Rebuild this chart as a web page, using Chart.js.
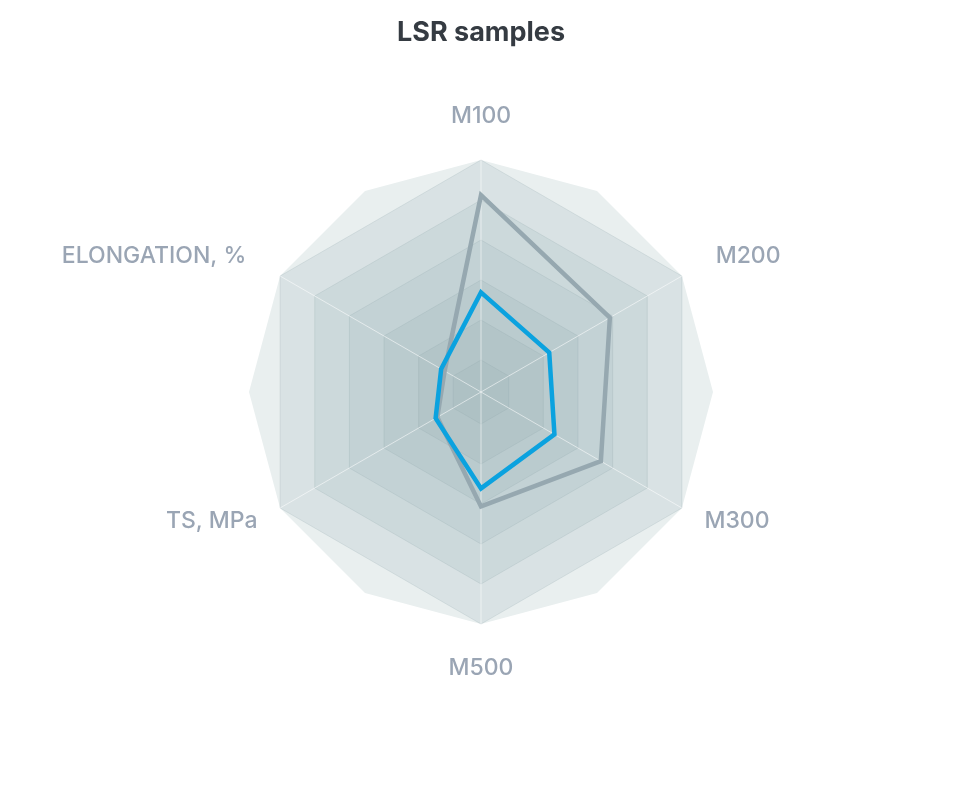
<!DOCTYPE html>
<html>
<head>
<meta charset="utf-8">
<title>LSR samples</title>
<script src="https://cdn.jsdelivr.net/npm/chart.js@4.4.0/dist/chart.umd.min.js"></script>
<style>
    html, body { margin: 0; padding: 0; background: #fff; }
    #wrap { width: 956px; height: 788px; }
</style>
</head>
<body>
<div id="wrap"><canvas id="chart-radar"></canvas></div>
<script>
// values (scale runs from -0.8 at the centre to 5 at the rim)
const axisLabels = ['M100', 'M200', 'M300', 'M500', 'TS, MPa', 'ELONGATION, %'];
const sampleBlue = [1.69, 1.17, 1.32, 1.61, 0.51, 0.35];
const sampleGrey = [4.12, 2.92, 2.66, 2.06, 0.46, 0.25];
const ringTicks = [0, 1, 2, 3, 4, 5];

Chart.defaults.font.family = 'Inter, sans-serif';

// shaded rings behind the grid, outermost first
const ringBands = {
    id: 'ringBands',
    beforeDraw(chart, args, opts) {
        const r = chart.scales.r;
        const ctx = chart.ctx;
        const n = chart.data.labels.length;
        const outer = r.getDistanceFromCenterForValue(r.max);

        ctx.save();
        // twelve sided backdrop
        ctx.beginPath();
        for (let i = 0; i < n; i++) {
            const p = r.getPointPosition(i, outer);
            const q = r.getPointPosition(i, outer, Math.PI / n);
            if (i === 0) ctx.moveTo(p.x, p.y); else ctx.lineTo(p.x, p.y);
            ctx.lineTo(q.x, q.y);
        }
        ctx.closePath();
        ctx.fillStyle = opts.backdrop;
        ctx.fill();

        const ticks = r.ticks.slice().reverse();
        ticks.forEach((t, k) => {
            const d = r.getDistanceFromCenterForValue(t.value);
            ctx.beginPath();
            for (let i = 0; i < n; i++) {
                const p = r.getPointPosition(i, d);
                if (i === 0) ctx.moveTo(p.x, p.y); else ctx.lineTo(p.x, p.y);
            }
            ctx.closePath();
            ctx.fillStyle = opts.colors[k] || opts.colors[opts.colors.length - 1];
            ctx.fill();
        });
        ctx.restore();
    }
};

const ctx = document.getElementById('chart-radar').getContext('2d');
const radarChart = new Chart(ctx, {
    type: 'radar',
    plugins: [ringBands],
    data: {
        labels: axisLabels,
        datasets: [{
            label: 'Sample 1',
            data: sampleBlue,
            borderColor: '#0ba2df',
            borderWidth: 4.5,
            fill: false,
            pointRadius: 0,
            pointHoverRadius: 0
        }, {
            label: 'Sample 2',
            data: sampleGrey,
            borderColor: '#96a8b0',
            borderWidth: 4.5,
            fill: false,
            pointRadius: 0,
            pointHoverRadius: 0
        }]
    },
    options: {
        responsive: true,
        maintainAspectRatio: false,
        animation: false,
        layout: {
            padding: { left: 6, right: 0, top: 0, bottom: 106 }
        },
        elements: {
            line: { tension: 0, borderJoinStyle: 'miter' }
        },
        plugins: {
            legend: { display: false },
            tooltip: { enabled: false },
            title: {
                display: true,
                text: 'LSR samples',
                color: '#353b42',
                font: { size: 27, weight: 'bold', lineHeight: 1.2 },
                padding: { top: 17, bottom: 53 }
            },
            ringBands: {
                backdrop: '#e9efef',
                colors: ['#d9e2e4', '#ccd9db', '#c3d2d5', '#bacbce', '#b3c5c8', '#aec1c4']
            }
        },
        scales: {
            r: {
                min: -0.8,
                max: 5,
                afterBuildTicks(scale) {
                    scale.ticks = ringTicks.map(v => ({ value: v }));
                },
                ticks: { display: false },
                grid: {
                    color: 'rgba(140, 165, 170, 0.22)',
                    lineWidth: 1
                },
                angleLines: {
                    color: 'rgba(255, 255, 255, 0.55)',
                    lineWidth: 1
                },
                pointLabels: {
                    color: '#9aa5b4',
                    font: (c) => ({ size: 23, weight: '500', lineHeight: c.index % 3 === 0 ? 1.2 : 0 }),
                    padding: (c) => {
                        if (c.index % 3 === 0) return 30;
                        return (c.index === 1 || c.index === 5) ? 39 : 26;
                    }
                }
            }
        }
    }
});
</script>
</body>
</html>
